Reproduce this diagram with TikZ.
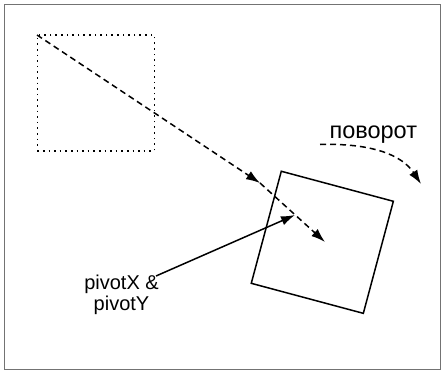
\documentclass[tikz,border=0pt]{standalone}
\usepackage{fontspec}
\setmainfont{Liberation Sans}
\usetikzlibrary{arrows.meta}
\begin{document}
\begin{tikzpicture}[x=1pt,y=-1pt,
  frame/.style={draw=black!55,line width=1.3pt},
  dotbox/.style={draw,line width=1.6pt,dash pattern=on 1.6pt off 4pt,minimum width=117pt,minimum height=116pt,inner sep=0pt,outer sep=0pt},
  rotbox/.style={draw,line width=1.5pt,minimum size=116pt,inner sep=0pt,outer sep=0pt,rotate=-15},
  dashline/.style={line width=1.5pt,dash pattern=on 6pt off 4pt,-{Latex[length=14pt,width=9.5pt]}},
  solidarrow/.style={line width=1.5pt,-{Latex[length=14pt,width=9.5pt]}},
  lbl/.style={font=\fontsize{20}{21.6}\selectfont,align=center,inner sep=0pt},
  biglbl/.style={font=\fontsize{23.5}{26}\selectfont,inner sep=0pt,anchor=base}
]
\useasboundingbox (0,0) rectangle (443,372);
\draw[frame] (4.5,4.5) rectangle (440.5,369.5);
\node[dotbox] (old) at (95.8,93) {};
\node[rotbox] (new) at (322.3,242.3) {};
\coordinate (start) at (37,35);
\coordinate (mid) at (260,183);
\coordinate (centre) at (325,242);
\coordinate (pivot) at (295,215);
\draw[dashline] (start) -- (mid);
\draw[dashline] (mid) -- (centre);
\node[lbl] (ptxt) at (121.5,295) {pivotX \&\\pivotY};
\coordinate (pstart) at (156,276);
\draw[solidarrow] (pstart) -- (pivot);
\node[biglbl] (rot) at (373.3,138.3) {поворот};
\coordinate (rs) at (320,144.5);
\coordinate (re) at (421,184);
\draw[dashline] (rs) .. controls (372,143) and (402,155) .. (re);
\end{tikzpicture}
\end{document}
